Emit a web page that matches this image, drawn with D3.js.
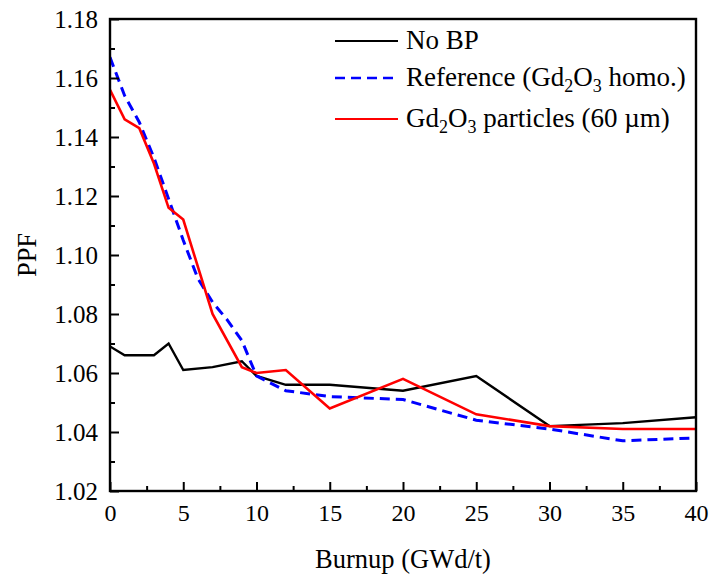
<!DOCTYPE html>
<html>
<head>
<meta charset="utf-8">
<script src="https://cdn.jsdelivr.net/npm/d3@7"></script>
<style>
  html, body { margin: 0; padding: 0; background: #fff; }
  svg { display: block; }
  svg text { font-family: "Liberation Serif", "Times New Roman", serif !important; fill: #000; }
</style>
</head>
<body>
<svg id="chart" width="712" height="575"></svg>
<script>
// ---- data ----
const noBpBurnup = [0, 1, 2, 3, 4, 5, 7, 9, 10, 12, 15, 20, 25, 30, 35, 40];
const noBpPPF    = [1.069, 1.066, 1.066, 1.066, 1.070, 1.061, 1.062, 1.064, 1.059, 1.056, 1.056, 1.054, 1.059, 1.042, 1.043, 1.045];

const refBurnup = [0, 1, 2, 3, 4, 5, 6, 7, 8, 9, 10, 12, 15, 20, 25, 30, 35, 40];
const refPPF    = [1.167, 1.154, 1.145, 1.133, 1.119, 1.105, 1.092, 1.084, 1.078, 1.071, 1.059, 1.054, 1.052, 1.051, 1.044, 1.041, 1.037, 1.038];

const gdBurnup = [0, 1, 2, 3, 4, 5, 7, 9, 10, 12, 15, 20, 25, 30, 35, 40];
const gdPPF    = [1.156, 1.146, 1.143, 1.131, 1.116, 1.112, 1.080, 1.062, 1.060, 1.061, 1.048, 1.058, 1.046, 1.042, 1.041, 1.041];

const xMajorTicks = [0, 5, 10, 15, 20, 25, 30, 35, 40];
const xMinorTicks = [2.5, 7.5, 12.5, 17.5, 22.5, 27.5, 32.5, 37.5];
const yMajorTicks = [1.02, 1.04, 1.06, 1.08, 1.10, 1.12, 1.14, 1.16, 1.18];
const yMinorTicks = [1.03, 1.05, 1.07, 1.09, 1.11, 1.13, 1.15, 1.17];

const xTitle = "Burnup (GWd/t)";
const yTitle = "PPF";

// ---- layout ----
const L = 110, R = 696, T = 19, B = 491;
const FONT = '"Liberation Serif", "Times New Roman", serif';
const svg = d3.select("#chart").style("font-family", FONT);
const x = d3.scaleLinear().domain([0, 40]).range([L, R]);
const y = d3.scaleLinear().domain([1.02, 1.18]).range([B, T]);

const series = [
  { name: "nobp", xs: noBpBurnup, ys: noBpPPF, color: "#000000", width: 2.4, dash: null },
  { name: "ref",  xs: refBurnup,  ys: refPPF,  color: "#0000ff", width: 3,   dash: "10,6" },
  { name: "gd",   xs: gdBurnup,   ys: gdPPF,   color: "#ff0000", width: 2.6, dash: null }
];

const line = d3.line().x(d => x(d[0])).y(d => y(d[1]));

svg.append("clipPath").attr("id", "clip")
  .append("rect").attr("x", L).attr("y", T).attr("width", R - L).attr("height", B - T);

const g = svg.append("g").attr("clip-path", "url(#clip)");
series.forEach(s => {
  g.append("path")
    .datum(s.xs.map((v, i) => [v, s.ys[i]]))
    .attr("fill", "none")
    .attr("stroke", s.color)
    .attr("stroke-width", s.width)
    .attr("stroke-dasharray", s.dash)
    .attr("stroke-linejoin", "miter")
    .attr("d", line);
});

// ---- axes ----
const fmtY = d3.format(".2f");
const xAxis = svg.append("g").attr("transform", `translate(0,${B})`)
  .call(d3.axisBottom(x).tickValues(xMajorTicks).tickSize(-9).tickPadding(13).tickFormat(d3.format("d")));
const xAxisMinor = svg.append("g").attr("transform", `translate(0,${B})`)
  .call(d3.axisBottom(x).tickValues(xMinorTicks).tickSize(-5).tickFormat(""));
const yAxis = svg.append("g").attr("transform", `translate(${L},0)`)
  .call(d3.axisLeft(y).tickValues(yMajorTicks).tickSize(-9).tickPadding(12).tickFormat(fmtY));
const yAxisMinor = svg.append("g").attr("transform", `translate(${L},0)`)
  .call(d3.axisLeft(y).tickValues(yMinorTicks).tickSize(-5).tickFormat(""));

[xAxis, xAxisMinor, yAxis, yAxisMinor].forEach(a => {
  a.attr("font-family", null).style("font-family", FONT);
  a.select(".domain").remove();
  a.selectAll(".tick line").attr("stroke", "#000").attr("stroke-width", 2);
  a.selectAll(".tick text").style("font-family", FONT).attr("fill", "#000");
});
xAxis.selectAll(".tick text").attr("font-size", 24);
yAxis.selectAll(".tick text").attr("font-size", 25);

// frame
svg.append("rect")
  .attr("x", L).attr("y", T).attr("width", R - L).attr("height", B - T)
  .attr("fill", "none").attr("stroke", "#000").attr("stroke-width", 2.4);

// titles
svg.append("text").attr("x", (L + R) / 2).attr("y", 568)
  .attr("text-anchor", "middle").attr("font-size", 26.5).text(xTitle);
svg.append("text").attr("transform", `translate(36,${(T + B) / 2}) rotate(-90)`)
  .attr("text-anchor", "middle").attr("font-size", 26.5).text(yTitle);

// ---- legend ----
const legendRows = [
  { s: series[0], ly: 41, parts: [["No BP", false]] },
  { s: series[1], ly: 78, parts: [["Reference (Gd", false], ["2", true], ["O", false], ["3", true], [" homo.)", false]] },
  { s: series[2], ly: 119, parts: [["Gd", false], ["2", true], ["O", false], ["3", true], [" particles (60 µm)", false]] }
];
const lg = svg.append("g");
legendRows.forEach(r => {
  lg.append("line")
    .attr("x1", 335).attr("x2", 398).attr("y1", r.ly).attr("y2", r.ly)
    .attr("stroke", r.s.color).attr("stroke-width", r.s.name === "ref" ? 2.4 : 2)
    .attr("stroke-dasharray", r.s.dash);
  const t = lg.append("text").attr("x", 406).attr("y", r.ly + 8).attr("font-size", 27);
  let shifted = false;
  r.parts.forEach(p => {
    const sp = t.append("tspan").text(p[0]);
    if (p[1]) { sp.attr("font-size", 18).attr("dy", shifted ? 0 : 6); shifted = true; }
    else { if (shifted) { sp.attr("dy", -6); shifted = false; } }
  });
});
</script>
</body>
</html>
